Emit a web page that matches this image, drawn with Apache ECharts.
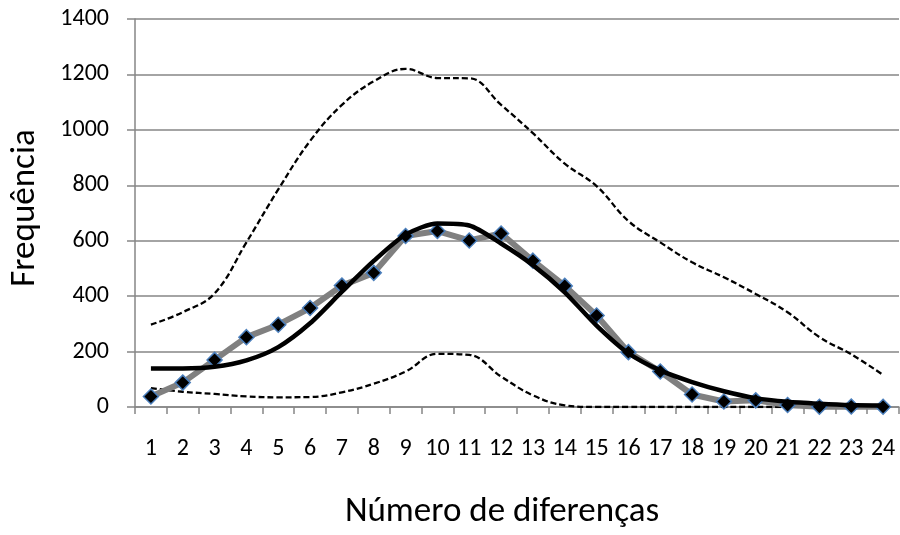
<!DOCTYPE html>
<html><head><meta charset="utf-8">
<script src="https://cdn.jsdelivr.net/npm/echarts@6/dist/echarts.min.js"></script>
<style>html,body{margin:0;padding:0;background:#fff}#c{width:900px;height:535px}</style>
</head><body><div id="c"></div>
<script>
const categories = ['1','2','3','4','5','6','7','8','9','10','11','12','13','14','15','16','17','18','19','20','21','22','23','24'];
const yTicks = [0,200,400,600,800,1000,1200,1400];
const observed = [38,88,170,252,297,357,438,484,617,635,601,626,528,437,330,198,128,45,20,24,7,1,2,1];
const expected = [139,139,145,168,216,302,416,527,622,662,655,590,512,414,294,194,132,90,57,32,19,12,7,5];
const upperLimit = [297,342,410,594,785,960,1090,1175,1220,1187,1186,1090,988,878,797,671,594,522,468,408,342,252,190,116];
const lowerLimit = [68,55,47,38,35,36,53,84,128,192,188,110,42,6,0,0,0,0,0,0,0,0,0,0];

const FONT = 'Carlito, Calibri, Lato, sans-serif';
const chart = echarts.init(document.getElementById('c'), null, {renderer:'canvas'});
chart.setOption({
  animation:false,
  backgroundColor:'#ffffff',
  grid:{left:134, right:1, top:19, bottom:127, containLabel:false},
  xAxis:{
    type:'category', data:categories, boundaryGap:true,
    name:'Número de diferenças', nameLocation:'middle', nameGap:88,
    nameTextStyle:{fontFamily:FONT, fontSize:35, color:'#000', padding:[0,30,0,0]},
    axisLine:{lineStyle:{color:'#868686', width:1.5}},
    axisTick:{show:true, length:7, lineStyle:{color:'#868686', width:1.5}},
    axisLabel:{fontFamily:FONT, fontSize:24, color:'#000', margin:30, interval:0},
    splitLine:{show:false}
  },
  yAxis:{
    type:'value', min:yTicks[0], max:yTicks[yTicks.length-1], interval:200,
    name:'Frequência', nameLocation:'middle', nameGap:92, nameRotate:90,
    nameTextStyle:{fontFamily:FONT, fontSize:35, color:'#000', padding:[0,0,0,10]},
    axisLine:{show:true, lineStyle:{color:'#868686', width:1.5}},
    axisTick:{show:true, length:8, lineStyle:{color:'#868686', width:1.5}},
    axisLabel:{fontFamily:FONT, fontSize:24, color:'#000', margin:26, formatter:function(v){return String(v);}},
    splitLine:{show:true, lineStyle:{color:'#868686', width:1.5}}
  },
  series:[
    {name:'upper', type:'line', data:upperLimit, smooth:0.4, symbol:'none',
     lineStyle:{color:'#000', width:2.3, type:[6,3]}, z:2},
    {name:'lower', type:'line', data:lowerLimit, smooth:0.4, symbol:'none',
     lineStyle:{color:'#000', width:2.3, type:[6,3]}, z:2},
    {name:'observed', type:'line', data:observed, smooth:false, symbol:'none',
     lineStyle:{color:'#808080', width:6}, z:3},
    {name:'observedMarkers', type:'line', data:observed, symbol:'diamond', symbolSize:15,
     lineStyle:{width:0, opacity:0},
     itemStyle:{color:'#000', borderColor:'#4a7ebb', borderWidth:1.5}, z:4},
    {name:'expected', type:'line', data:expected, smooth:0.25, symbol:'none',
     lineStyle:{color:'#000', width:4.5}, z:5}
  ]
});
</script></body></html>
